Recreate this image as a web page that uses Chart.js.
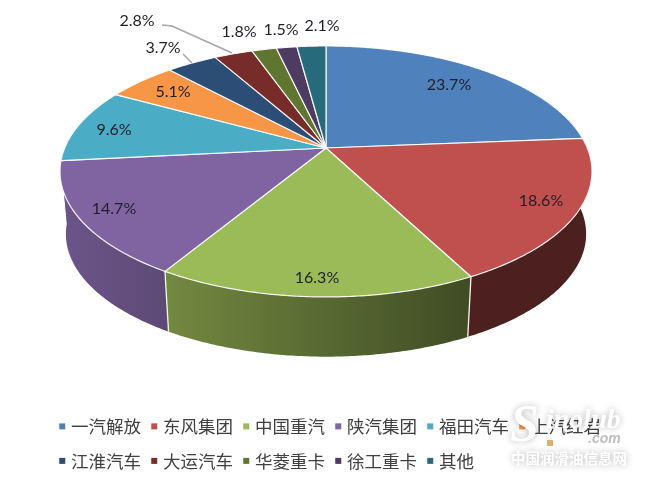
<!DOCTYPE html>
<html>
<head>
<meta charset="utf-8">
<style>
  html, body { margin: 0; padding: 0; background: #fff; }
  canvas { display: block; }
</style>
<script src="https://cdn.jsdelivr.net/npm/chart.js@4"></script>
</head>
<body>
<canvas id="pie" width="653" height="481"></canvas>
<script>
const categories = ["一汽解放", "东风集团", "中国重汽", "陕汽集团", "福田汽车", "上汽红岩", "江淮汽车", "大运汽车", "华菱重卡", "徐工重卡", "其他"];
const shares = [23.7, 18.6, 16.3, 14.7, 9.6, 5.1, 3.7, 2.8, 1.8, 1.5, 2.1];
const sliceColors = ["#4f81bd", "#c0504d", "#9bbb59", "#8064a2", "#4bacc6", "#f79646", "#2c4d75", "#772c2a", "#5f7530", "#4d3b62", "#276a7c"];
const labelSpots = [[449, 85], [541, 201], [317, 278], [114, 209], [114, 130], [173, 92], [163, 48], [137, 21], [239, 32], [281, 30], [322, 26]];

// perspective of the disc: apex of the slices sits above the middle of the ellipse
const view = { x: 326, y: 148, a: 261.3, b: 121.1, p: 0.187, depth: 63, shrink: 0.978 };

function project(angle, low) {
  const u = Math.cos(angle), v = Math.sin(angle), w = 1 - view.p * v;
  const k = low ? view.shrink : 1;
  return [view.x + k * view.a * u / w, view.y + (low ? view.depth : 0) + k * view.b * v / w];
}

function shade(hex, f) {
  const n = parseInt(hex.slice(1), 16);
  return `rgb(${(n >> 16) * f | 0},${((n >> 8) & 255) * f | 0},${(n & 255) * f | 0})`;
}

const disc3d = {
  id: "disc3d",
  beforeDatasetsDraw(chart) {
    const ctx = chart.ctx, arcs = chart.getDatasetMeta(0).data;
    ctx.save();
    // the wall of each slice, back to front, lit from the left
    const order = arcs.map((arc, i) => i).sort((i, j) =>
      Math.sin((arcs[i].startAngle + arcs[i].endAngle) / 2) - Math.sin((arcs[j].startAngle + arcs[j].endAngle) / 2));
    order.forEach(i => {
      const arc = arcs[i], top = [], low = [];
      for (let a = arc.startAngle; a < arc.endAngle; a += 0.01) {
        if (Math.sin(a) > -0.25) { top.push(project(a)); low.push(project(a, true)); }
      }
      if (!top.length) return;
      if (Math.sin(arc.endAngle) > -0.25) { top.push(project(arc.endAngle)); low.push(project(arc.endAngle, true)); }
      const g = chart.ctx.createLinearGradient(60, 0, 480, 0);
      g.addColorStop(0, shade(sliceColors[i], 0.85));
      g.addColorStop(1, shade(sliceColors[i], 0.4));
      ctx.fillStyle = g;
      ctx.beginPath();
      top.forEach((p, k) => k ? ctx.lineTo(p[0], p[1]) : ctx.moveTo(p[0], p[1]));
      low.reverse().forEach(p => ctx.lineTo(p[0], p[1]));
      ctx.closePath();
      ctx.fill();
    });
    // white seams on the front of the wall
    ctx.strokeStyle = "#f4f6ea";
    ctx.lineWidth = 1.3;
    arcs.forEach(arc => {
      if (Math.sin(arc.startAngle) > 0.25) {
        const t = project(arc.startAngle), b = project(arc.startAngle, true);
        ctx.beginPath(); ctx.moveTo(t[0], t[1]); ctx.lineTo(b[0], b[1]); ctx.stroke();
      }
    });
    // top face
    arcs.forEach((arc, i) => {
      ctx.beginPath();
      ctx.moveTo(view.x, view.y);
      for (let a = arc.startAngle; a < arc.endAngle; a += 0.01) {
        const p = project(a);
        ctx.lineTo(p[0], p[1]);
      }
      const e = project(arc.endAngle);
      ctx.lineTo(e[0], e[1]);
      ctx.closePath();
      ctx.fillStyle = sliceColors[i];
      ctx.fill();
      ctx.strokeStyle = "rgba(255,255,255,0.9)";
      ctx.lineWidth = 1.2;
      ctx.lineJoin = "round";
      ctx.stroke();
    });
    ctx.restore();
    return false;
  },
  afterDraw(chart) {
    const ctx = chart.ctx;
    ctx.save();
    // legend markers: the legend's own boxes are kept tall for the row spacing
    chart.legend.legendHitBoxes.forEach((box, i) => {
      ctx.fillStyle = sliceColors[i];
      ctx.fillRect(box.left, box.top + box.height / 2 - 3, 6, 6);
    });
    // leader lines of the two small slices
    ctx.strokeStyle = "#a6a6a6";
    ctx.lineWidth = 1.5;
    ctx.beginPath(); ctx.moveTo(162, 25); ctx.lineTo(172, 26); ctx.lineTo(232, 53); ctx.stroke();
    ctx.beginPath(); ctx.moveTo(183, 54); ctx.lineTo(192, 63); ctx.stroke();
    ctx.fillStyle = "#1f1f2a";
    ctx.font = "16px Lato";
    ctx.textAlign = "center";
    ctx.textBaseline = "middle";
    shares.forEach((v, i) => ctx.fillText(v.toFixed(1) + "%", labelSpots[i][0], labelSpots[i][1]));
    // site watermark
    ctx.shadowColor = "rgba(0,0,0,0.3)";
    ctx.shadowBlur = 7;
    ctx.fillStyle = "#fff";
    ctx.textAlign = "left";
    ctx.font = "italic bold 52px 'Liberation Serif'";
    ctx.fillText("S", 510, 428);
    ctx.font = "italic bold 28px 'Liberation Serif'";
    ctx.fillText("inolub", 546, 421);
    ctx.font = "bold 14.5px 'Noto Sans CJK SC'";
    ctx.fillText("中国润滑油信息网", 511, 458);
    ctx.shadowColor = "transparent";
    ctx.fillStyle = "#bdbdbd";
    ctx.font = "italic bold 14px 'Liberation Sans'";
    ctx.fillText(".com", 588, 439);
    ctx.fillStyle = "#e0b070";
    ctx.fillRect(547, 440, 6, 6);
    ctx.restore();
  }
};

new Chart(document.getElementById("pie"), {
  type: "pie",
  plugins: [disc3d],
  data: {
    labels: categories,
    datasets: [{ data: shares, backgroundColor: sliceColors, borderWidth: 0 }]
  },
  options: {
    responsive: false,
    animation: false,
    layout: { padding: { left: 49, right: 38, bottom: -2 } },
    plugins: {
      tooltip: { enabled: false },
      legend: {
        position: "bottom",
        align: "start",
        labels: {
          boxWidth: 3,
          boxHeight: 24.25,
          padding: 10.25,
          color: "#404040",
          font: { size: 17.5, family: "'Noto Sans CJK SC'" },
          generateLabels: chart => chart.data.labels.map((text, i) => ({
            text, index: i, fillStyle: "transparent", strokeStyle: "transparent", lineWidth: 0, fontColor: "#404040"
          }))
        }
      }
    }
  }
});
</script>
</body>
</html>
